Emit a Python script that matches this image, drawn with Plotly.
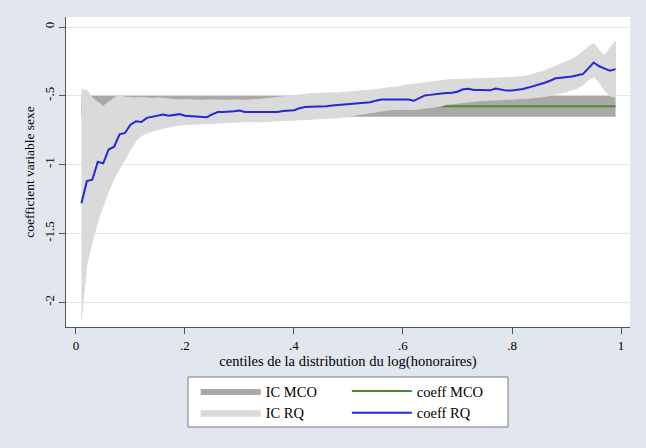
import plotly.graph_objects as go

# Centiles of the distribution of log(honoraires)
centiles = [0.01, 0.02, 0.03, 0.04, 0.05, 0.06, 0.07, 0.08, 0.09, 0.10,
            0.11, 0.12, 0.13, 0.14, 0.15, 0.16, 0.17, 0.18, 0.19, 0.20,
            0.21, 0.22, 0.23, 0.24, 0.25, 0.26, 0.27, 0.28, 0.29, 0.30,
            0.31, 0.32, 0.33, 0.34, 0.35, 0.36, 0.37, 0.38, 0.39, 0.40,
            0.41, 0.42, 0.43, 0.44, 0.45, 0.46, 0.47, 0.48, 0.49, 0.50,
            0.51, 0.52, 0.53, 0.54, 0.55, 0.56, 0.57, 0.58, 0.59, 0.60,
            0.61, 0.62, 0.63, 0.64, 0.65, 0.66, 0.67, 0.68, 0.69, 0.70,
            0.71, 0.72, 0.73, 0.74, 0.75, 0.76, 0.77, 0.78, 0.79, 0.80,
            0.81, 0.82, 0.83, 0.84, 0.85, 0.86, 0.87, 0.88, 0.89, 0.90,
            0.91, 0.92, 0.93, 0.94, 0.95, 0.96, 0.97, 0.98, 0.99]

# Quantile regression coefficient of the "sexe" variable
coeff_rq = [-1.28, -1.12, -1.11, -0.98, -0.99, -0.89, -0.87, -0.78, -0.77, -0.71,
            -0.685, -0.69, -0.66, -0.65, -0.645, -0.635, -0.645, -0.64, -0.633, -0.645,
            -0.648, -0.650, -0.652, -0.655, -0.635, -0.618, -0.618, -0.617, -0.612, -0.607,
            -0.618, -0.618, -0.619, -0.618, -0.618, -0.619, -0.618, -0.61, -0.606, -0.604,
            -0.59, -0.582, -0.58, -0.579, -0.577, -0.575, -0.57, -0.567, -0.566, -0.562,
            -0.555, -0.553, -0.55, -0.547, -0.535, -0.526, -0.526, -0.525, -0.526, -0.526,
            -0.527, -0.536, -0.515, -0.497, -0.493, -0.486, -0.483, -0.48, -0.478, -0.47,
            -0.452, -0.448, -0.457, -0.458, -0.459, -0.46, -0.447, -0.455, -0.462, -0.462,
            -0.458, -0.45, -0.44, -0.43, -0.418, -0.405, -0.39, -0.372, -0.368, -0.365,
            -0.36, -0.35, -0.342, -0.30, -0.258, -0.285, -0.30, -0.318, -0.306]

# Confidence interval of the quantile regression (IC RQ)
ic_rq_upper = [-0.455, -0.46, -0.515, -0.545, -0.575, -0.545, -0.515, -0.49, -0.51, -0.515,
               -0.515, -0.51, -0.515, -0.52, -0.515, -0.52, -0.525, -0.53, -0.53, -0.528,
               -0.53, -0.53, -0.532, -0.53, -0.528, -0.53, -0.532, -0.53, -0.528, -0.53,
               -0.532, -0.53, -0.53, -0.525, -0.52, -0.515, -0.51, -0.505, -0.50, -0.495,
               -0.49, -0.485, -0.485, -0.483, -0.48, -0.478, -0.478, -0.48, -0.475, -0.47,
               -0.468, -0.465, -0.462, -0.46, -0.455, -0.448, -0.445, -0.44, -0.435, -0.425,
               -0.42, -0.415, -0.405, -0.40, -0.398, -0.395, -0.39, -0.385, -0.382, -0.38,
               -0.378, -0.376, -0.375, -0.375, -0.373, -0.372, -0.372, -0.37, -0.37, -0.368,
               -0.366, -0.36, -0.352, -0.342, -0.33, -0.318, -0.30, -0.285, -0.27, -0.255,
               -0.235, -0.21, -0.175, -0.145, -0.12, -0.17, -0.205, -0.15, -0.105]

ic_rq_lower = [-2.12, -1.72, -1.56, -1.41, -1.30, -1.19, -1.10, -1.03, -0.96, -0.89,
               -0.83, -0.79, -0.77, -0.755, -0.745, -0.735, -0.725, -0.718, -0.712, -0.708,
               -0.705, -0.702, -0.70, -0.702, -0.70, -0.695, -0.692, -0.69, -0.688, -0.69,
               -0.688, -0.686, -0.69, -0.688, -0.685, -0.684, -0.685, -0.682, -0.68, -0.678,
               -0.676, -0.675, -0.672, -0.67, -0.668, -0.665, -0.662, -0.66, -0.655, -0.65,
               -0.642, -0.635, -0.628, -0.624, -0.62, -0.612, -0.605, -0.60, -0.598, -0.596,
               -0.598, -0.60, -0.595, -0.59, -0.585, -0.58, -0.575, -0.562, -0.555, -0.552,
               -0.548, -0.545, -0.54, -0.535, -0.532, -0.53, -0.53, -0.528, -0.527, -0.525,
               -0.522, -0.52, -0.518, -0.515, -0.51, -0.505, -0.50, -0.49, -0.48, -0.47,
               -0.46, -0.445, -0.42, -0.385, -0.36, -0.40, -0.46, -0.50, -0.51]

# OLS (MCO) coefficient and its confidence interval, constant over centiles
mco_x = [0.01, 0.99]
coeff_mco = [-0.575, -0.575]
ic_mco_upper = [-0.50, -0.50]
ic_mco_lower = [-0.652, -0.652]

x_tick_vals = [0, 0.2, 0.4, 0.6, 0.8, 1]
x_tick_text = ["0", ".2", ".4", ".6", ".8", "1"]
y_tick_vals = [0, -0.5, -1, -1.5, -2]
y_tick_text = ["0", "-.5", "-1", "-1.5", "-2"]

FONT = "Liberation Serif, Times New Roman, serif"
PAPER = "#E1E6EF"
C_MCO_BAND = "#A9A9A9"
C_RQ_BAND = "#DADADA"
C_MCO_LINE = "#4F8A2F"
C_RQ_LINE = "#2626D8"

fig = go.Figure()

fig.add_trace(go.Scatter(
    x=mco_x + mco_x[::-1], y=ic_mco_upper + ic_mco_lower[::-1],
    fill="toself", fillcolor=C_MCO_BAND, mode="lines",
    line=dict(width=0, color=C_MCO_BAND), name="IC MCO",
    legend="legend", hoverinfo="skip"))

fig.add_trace(go.Scatter(
    x=mco_x, y=coeff_mco, mode="lines",
    line=dict(width=2, color=C_MCO_LINE), name="coeff MCO",
    legend="legend2"))

fig.add_trace(go.Scatter(
    x=centiles + centiles[::-1], y=ic_rq_upper + ic_rq_lower[::-1],
    fill="toself", fillcolor=C_RQ_BAND, mode="lines",
    line=dict(width=1, color=C_RQ_BAND), name="IC RQ",
    legend="legend", hoverinfo="skip"))

fig.add_trace(go.Scatter(
    x=centiles, y=coeff_rq, mode="lines",
    line=dict(width=2, color=C_RQ_LINE), name="coeff RQ",
    legend="legend2"))

axis_common = dict(
    showline=True, linecolor="#555555", linewidth=1,
    ticks="outside", ticklen=6, tickcolor="#555555", tickwidth=1,
    zeroline=False, automargin=False,
    tickfont=dict(family=FONT, size=13, color="#000000"),
)

fig.update_xaxes(
    range=[-0.0183, 1.0165], tickvals=x_tick_vals, ticktext=x_tick_text,
    showgrid=False,
    title=dict(text="centiles de la distribution du log(honoraires)",
               font=dict(family=FONT, size=14.5, color="#000000"), standoff=1),
    **axis_common)

fig.update_yaxes(
    range=[-2.18, 0.073], tickvals=y_tick_vals, ticktext=y_tick_text,
    tickangle=-90, showgrid=True, gridcolor="#E6E6E6", gridwidth=1,
    title=dict(text="coefficient variable sexe",
               font=dict(family=FONT, size=13.5, color="#000000"), standoff=4),
    **axis_common)

legend_common = dict(
    bgcolor="rgba(0,0,0,0)", borderwidth=0,
    font=dict(family=FONT, size=14.5, color="#000000"),
    orientation="v", xanchor="left", yanchor="top",
    tracegroupgap=0, itemwidth=60,
)

fig.update_layout(
    width=646, height=448,
    margin=dict(l=66, r=16, t=17, b=121, autoexpand=False),
    paper_bgcolor=PAPER, plot_bgcolor="#FFFFFF",
    font=dict(family=FONT, size=13, color="#000000"),
    showlegend=True,
    legend=dict(x=0.23, y=-0.155, **legend_common),
    legend2=dict(x=0.498, y=-0.155, **legend_common),
    shapes=[dict(type="rect", xref="paper", yref="paper",
                 x0=0.2163, x1=0.7837, y0=-0.3226, y1=-0.1613,
                 line=dict(color="#777777", width=1),
                 fillcolor="#FFFFFF", layer="below")],
)

fig.write_html("out.html",
               config={"displayModeBar": False},
               post_script="document.body.style.margin='0';document.body.style.overflow='hidden';")
